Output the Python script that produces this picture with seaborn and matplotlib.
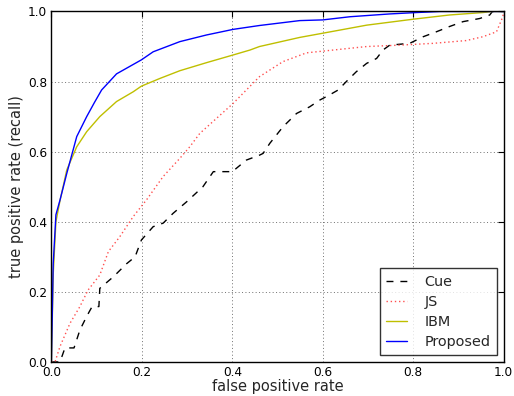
import matplotlib
matplotlib.use("Agg")
import matplotlib.pyplot as plt
import seaborn as sns
import pandas as pd

cue_fpr = [0.0, 0.019, 0.03, 0.05, 0.063, 0.078, 0.09, 0.105, 0.107, 0.137, 0.166, 0.185, 0.199, 0.225, 0.247,
           0.269, 0.299, 0.335, 0.358, 0.40, 0.431, 0.46, 0.468, 0.483, 0.512, 0.542, 0.571, 0.593, 0.615,
           0.634, 0.652, 0.674, 0.697, 0.719, 0.733, 0.748, 0.792, 0.822, 0.851, 0.88, 0.91, 0.947, 0.969,
           0.975, 1.0]
cue_tpr = [0.0, 0.0, 0.04, 0.04, 0.091, 0.13, 0.158, 0.158, 0.21, 0.243, 0.28, 0.30, 0.348, 0.386, 0.396,
           0.424, 0.457, 0.50, 0.543, 0.543, 0.576, 0.59, 0.595, 0.624, 0.671, 0.709, 0.728, 0.747, 0.762,
           0.776, 0.80, 0.828, 0.852, 0.866, 0.89, 0.904, 0.909, 0.928, 0.942, 0.957, 0.971, 0.98, 0.99,
           1.0, 1.0]

js_fpr = [0.0, 0.008, 0.019, 0.041, 0.063, 0.081, 0.107, 0.126, 0.151, 0.181, 0.21, 0.247, 0.284, 0.306,
          0.328, 0.365, 0.402, 0.431, 0.46, 0.512, 0.564, 0.623, 0.697, 0.77, 0.843, 0.917, 0.954, 0.984,
          0.998, 1.0]
js_tpr = [0.0, 0.0, 0.044, 0.11, 0.158, 0.205, 0.248, 0.315, 0.357, 0.415, 0.462, 0.529, 0.581, 0.614,
          0.652, 0.695, 0.738, 0.776, 0.814, 0.857, 0.882, 0.89, 0.90, 0.904, 0.909, 0.917, 0.928, 0.942,
          0.985, 1.0]

ibm_fpr = [0.0, 0.004, 0.01, 0.019, 0.034, 0.056, 0.078, 0.107, 0.144, 0.181, 0.199, 0.24, 0.284, 0.343,
           0.402, 0.439, 0.46, 0.549, 0.6, 0.697, 0.80, 0.88, 0.954, 0.975, 1.0]
ibm_tpr = [0.0, 0.25, 0.40, 0.46, 0.548, 0.614, 0.657, 0.70, 0.743, 0.771, 0.787, 0.809, 0.831, 0.854,
           0.876, 0.89, 0.90, 0.926, 0.938, 0.961, 0.978, 0.99, 0.997, 1.0, 1.0]

prop_fpr = [0.0, 0.004, 0.01, 0.019, 0.034, 0.056, 0.078, 0.095, 0.111, 0.144, 0.199, 0.225, 0.284, 0.343,
            0.402, 0.46, 0.549, 0.6, 0.66, 0.748, 0.807, 0.86, 1.0]
prop_tpr = [0.0, 0.28, 0.42, 0.462, 0.538, 0.643, 0.70, 0.74, 0.776, 0.822, 0.862, 0.885, 0.914, 0.933,
            0.949, 0.96, 0.974, 0.976, 0.985, 0.993, 0.997, 1.0, 1.0]

series = ["Cue", "JS", "IBM", "Proposed"]
ticks = [0.0, 0.2, 0.4, 0.6, 0.8, 1.0]

sns.set_style("white")
plt.rcParams["font.family"] = ["DejaVu Sans"]

fig = plt.figure(figsize=(5.14, 3.96), dpi=100)
ax = fig.add_axes([0.1, 0.086, 0.88, 0.885])

data = {
    "Cue": (cue_fpr, cue_tpr, dict(color="black", linestyle=(0, (5, 5)), linewidth=1.0)),
    "JS": (js_fpr, js_tpr, dict(color="#ff5050", linestyle=(0, (1, 2)), linewidth=1.0)),
    "IBM": (ibm_fpr, ibm_tpr, dict(color="#bfbf00", linestyle="-", linewidth=1.0)),
    "Proposed": (prop_fpr, prop_tpr, dict(color="#0000ff", linestyle="-", linewidth=1.0)),
}
for name in series:
    xs, ys, kw = data[name]
    df = pd.DataFrame({"fpr": xs, "tpr": ys})
    sns.lineplot(data=df, x="fpr", y="tpr", ax=ax, sort=False, estimator=None, label=name, **kw)

ax.set_xlim(0, 1)
ax.set_ylim(0, 1)
ax.set_xticks(ticks)
ax.set_yticks(ticks)
ax.set_xticklabels([f"{t:.1f}" for t in ticks])
ax.set_yticklabels([f"{t:.1f}" for t in ticks])
ax.tick_params(labelsize=8.7, direction="in", top=True, right=True, length=4, width=0.8,
               colors="black", pad=3)
ax.grid(True, color="#707070", linestyle=(0, (1, 2.5)), linewidth=0.7)
for s in ax.spines.values():
    s.set_color("black")
    s.set_linewidth(1.0)
ax.set_xlabel("false positive rate", fontsize=10.5, labelpad=0)
ax.set_ylabel("true positive rate (recall)", fontsize=10.5, labelpad=3)

leg = ax.legend(loc="lower right", fontsize=10.4, frameon=True, fancybox=False, handlelength=1.4,
                borderpad=0.45, labelspacing=0.42, handletextpad=1.25, borderaxespad=0.45)
leg.get_frame().set_edgecolor("black")
leg.get_frame().set_linewidth(1.0)

fig.savefig("out.png", dpi=100)
